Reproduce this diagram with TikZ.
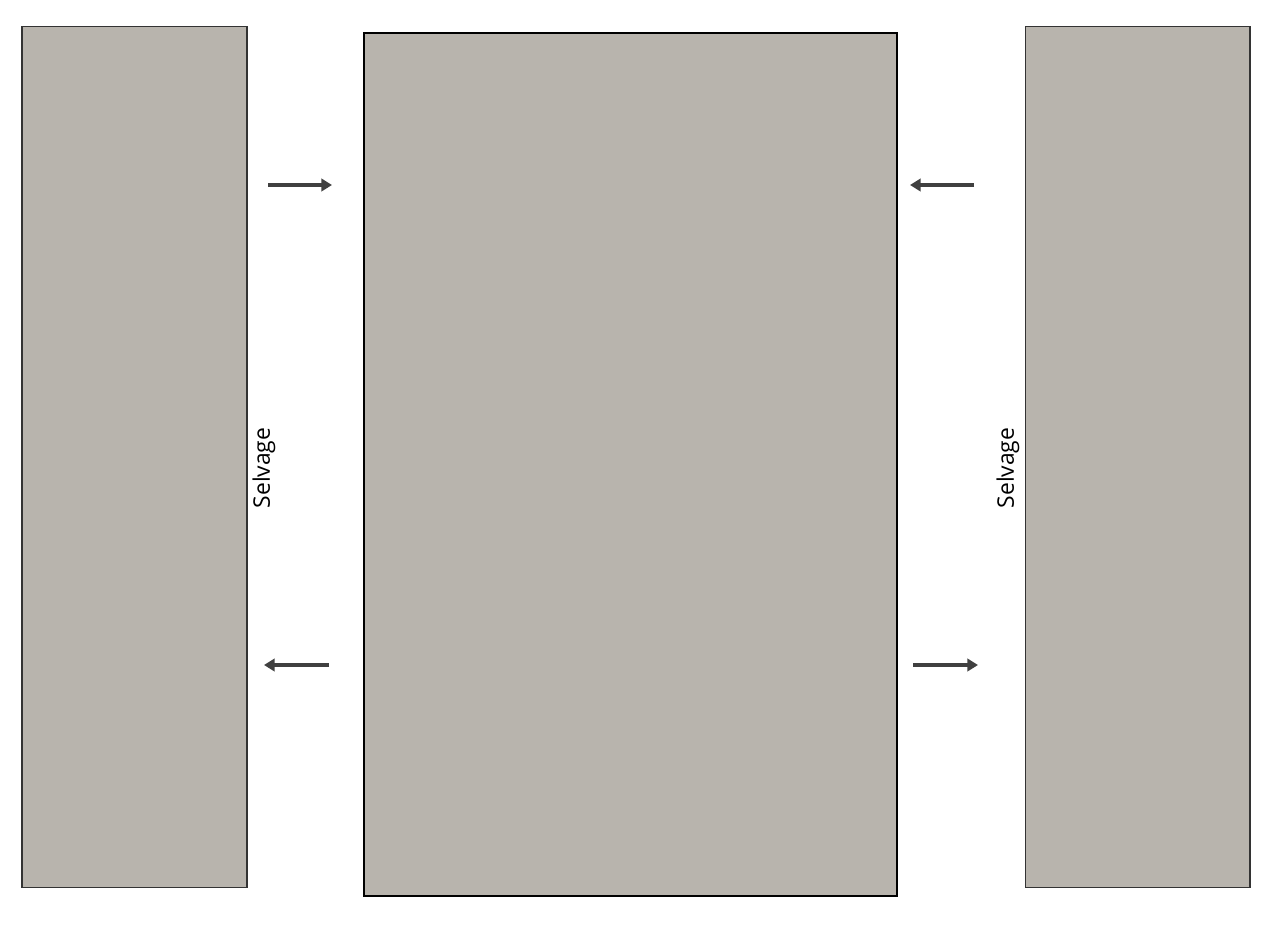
\documentclass[tikz,border=0pt]{standalone}
\usepackage{fontspec}
\setmainfont{Open Sans}
\usetikzlibrary{arrows.meta}
\definecolor{cloth}{HTML}{B8B4AD}
\definecolor{arrowgray}{HTML}{404040}
\begin{document}
\begin{tikzpicture}[x=0.02cm,y=-0.02cm,
  panel/.style={draw=black!80, fill=cloth, line width=0.6pt, inner sep=0pt, outer sep=0pt},
  mainpanel/.style={draw=black, fill=cloth, line width=1.2pt, inner sep=0pt, outer sep=0pt},
  flow/.style={draw=arrowgray, line width=1.8pt, -{Triangle[length=6pt,width=7pt]}},
  selv/.style={rotate=90, font=\fontsize{13}{16}\selectfont, inner sep=0pt}]
\useasboundingbox (0,0) rectangle (1275,937);
\node[panel, minimum width=4.5cm, minimum height=17.24cm] (L) at (134.5,457) {};
\node[mainpanel, minimum width=10.66cm, minimum height=17.26cm] (C) at (630.5,464.5) {};
\node[panel, minimum width=4.5cm, minimum height=17.24cm] (R) at (1137.5,457) {};
\node[selv] (s1) at (264,468) {Selvage};
\node[selv] (s2) at (1008,468) {Selvage};
\coordinate (a1s) at (268,185); \coordinate (a1e) at (332,185);
\coordinate (a2s) at (974,185); \coordinate (a2e) at (910,185);
\coordinate (a3s) at (329,665); \coordinate (a3e) at (264,665);
\coordinate (a4s) at (913,665); \coordinate (a4e) at (978,665);
\draw[flow] (a1s) -- (a1e);
\draw[flow] (a2s) -- (a2e);
\draw[flow] (a3s) -- (a3e);
\draw[flow] (a4s) -- (a4e);
\end{tikzpicture}
\end{document}
